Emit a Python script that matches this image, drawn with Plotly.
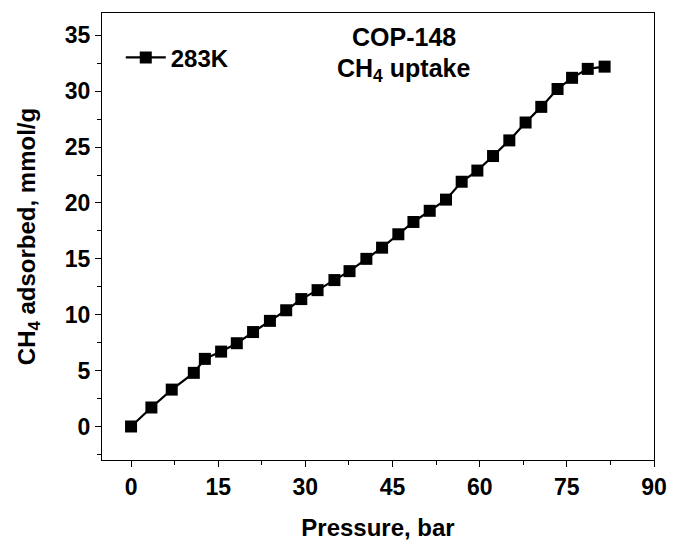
import plotly.graph_objects as go

pressure = [0, 3.5, 7.0, 10.8, 12.7, 15.5, 18.2, 21.0, 23.9, 26.7, 29.3, 32.1, 35.0, 37.6,
            40.5, 43.2, 46.0, 48.6, 51.4, 54.2, 56.9, 59.6, 62.3, 65.1, 67.9, 70.6, 73.4,
            75.9, 78.6, 81.5]
uptake = [0, 1.7, 3.3, 4.8, 6.05, 6.7, 7.45, 8.45, 9.45, 10.4, 11.4, 12.2, 13.1, 13.9,
          15.0, 16.0, 17.2, 18.3, 19.3, 20.3, 21.9, 22.9, 24.2, 25.6, 27.2, 28.6, 30.2,
          31.2, 32.0, 32.2]
series_name = "283K"
x_ticks = [0, 15, 30, 45, 60, 75, 90]
y_ticks = [0, 5, 10, 15, 20, 25, 30, 35]

FONT = "Liberation Sans, Arial, sans-serif"

fig = go.Figure()
fig.add_trace(go.Scatter(
    x=pressure, y=uptake, name=series_name, mode="lines+markers",
    line=dict(color="black", width=2.2),
    marker=dict(symbol="square", size=12, color="black"),
))

axis_common = dict(
    showline=True, linecolor="black", linewidth=1, mirror=True,
    ticks="outside", ticklen=6, tickwidth=1, tickcolor="black",
    showgrid=False, zeroline=False,
    tickfont=dict(family=FONT, size=23, color="black", weight="bold"),
)

fig.update_xaxes(
    range=[-5, 90], tickvals=x_ticks,
    minor=dict(ticks="outside", ticklen=4, tickwidth=1, tickcolor="black", dtick=7.5, tick0=0),
    title=dict(text="Pressure, bar", font=dict(family=FONT, size=24, color="black", weight="bold"), standoff=20),
    **axis_common,
)
fig.update_yaxes(
    range=[-3, 37], tickvals=y_ticks,
    minor=dict(ticks="outside", ticklen=4, tickwidth=1, tickcolor="black", dtick=2.5, tick0=0),
    title=dict(text="CH<sub>4</sub> adsorbed, mmol/g", font=dict(family=FONT, size=24, color="black", weight="bold"), standoff=22),
    **axis_common,
)

fig.add_annotation(x=0.547, y=0.947, xref="paper", yref="paper", xanchor="center", yanchor="middle",
                   text="COP-148", showarrow=False,
                   font=dict(family=FONT, size=25, color="black", weight="bold"))
fig.add_annotation(x=0.547, y=0.873, xref="paper", yref="paper", xanchor="center", yanchor="middle",
                   text="CH<sub>4</sub> uptake", showarrow=False,
                   font=dict(family=FONT, size=25, color="black", weight="bold"))

fig.update_layout(
    width=679, height=548,
    margin=dict(l=102, r=18, t=13, b=86),
    paper_bgcolor="white", plot_bgcolor="white",
    showlegend=True,
    legend=dict(x=0.034, y=0.95, xanchor="left", yanchor="top", bgcolor="rgba(0,0,0,0)",
                font=dict(family=FONT, size=24, color="black", weight="bold"),
                itemwidth=40),
)

fig.write_html("out.html")
